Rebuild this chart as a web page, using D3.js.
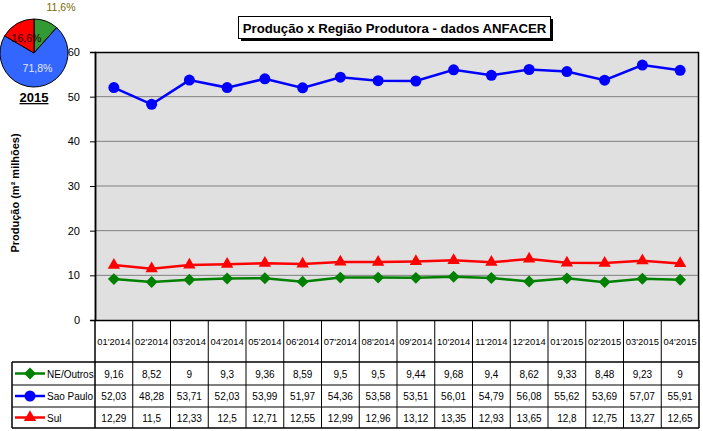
<!DOCTYPE html>
<html><head><meta charset="utf-8">
<script src="https://cdn.jsdelivr.net/npm/d3@7"></script>
<style>body{margin:0;background:#fff}svg{display:block;font-family:Arial,"Liberation Sans",sans-serif}</style>
</head><body><svg id="c" width="703" height="431"></svg>
<script>
const categories = ["01'2014","02'2014","03'2014","04'2014","05'2014","06'2014","07'2014","08'2014","09'2014","10'2014","11'2014","12'2014","01'2015","02'2015","03'2015","04'2015"];
const neOutros = [9.16,8.52,9,9.3,9.36,8.59,9.5,9.5,9.44,9.68,9.4,8.62,9.33,8.48,9.23,9];
const saoPaulo = [52.03,48.28,53.71,52.03,53.99,51.97,54.36,53.58,53.51,56.01,54.79,56.08,55.62,53.69,57.07,55.91];
const sul = [12.29,11.5,12.33,12.5,12.71,12.55,12.99,12.96,13.12,13.35,12.93,13.65,12.8,12.75,13.27,12.65];
const yTicks = [0,10,20,30,40,50,60];
const pieLabels = ["11,6%","71,8%","16,6%"];
const pieValues = [11.6,71.8,16.6];
const pieYear = "2015";
const seriesNames = ["NE/Outros","Sao Paulo","Sul"];

const svg = d3.select("#c");
const X0=95, X1=699, YT=52, YB=320;
const x = d3.scaleBand().domain(categories).range([X0,X1]).padding(0);
const y = d3.scaleLinear().domain([0,60]).range([YB,YT]);
const fmt = v => String(v).replace(".", ",");

// plot background
svg.append("rect").attr("x",X0).attr("y",YT).attr("width",X1-X0).attr("height",YB-YT).attr("fill","#e0e0e0");
// grid
svg.append("g").selectAll("line").data(yTicks.filter(t=>t>0&&t<60)).join("line")
  .attr("x1",X0).attr("x2",X1).attr("y1",d=>y(d)).attr("y2",d=>y(d)).attr("stroke","#808080").attr("stroke-width",1);
svg.append("rect").attr("x",X0+0.5).attr("y",YT+0.5).attr("width",X1-X0-1).attr("height",YB-YT).attr("fill","none").attr("stroke","#000").attr("stroke-width",1.5);

// y axis
const ya = svg.append("g").attr("transform",`translate(${X0},0)`).call(d3.axisLeft(y).tickValues(yTicks).tickSize(5).tickPadding(10));
ya.select(".domain").attr("stroke","#000").attr("stroke-width",1.5);
ya.selectAll("line").attr("stroke","#000");
ya.selectAll("text").attr("font-size",11).attr("fill","#000").attr("font-family","Arial");

svg.append("text").attr("transform","translate(19,193) rotate(-90)").attr("text-anchor","middle")
  .attr("font-size",11).attr("font-weight","bold").text("Produção (m² milhões)");

// series
const series = [
  {name:seriesNames[0], data:neOutros, color:"#008000", marker:"diamond"},
  {name:seriesNames[1], data:saoPaulo, color:"#0000ff", marker:"circle"},
  {name:seriesNames[2], data:sul, color:"#ff0000", marker:"triangle"}
];
const symType = {diamond:d3.symbolDiamond2, circle:d3.symbolCircle, triangle:d3.symbolTriangle2};
const symSize = {diamond:90, circle:95, triangle:110};
const cx = c => x(c)+x.bandwidth()/2;
series.forEach(s=>{
  const line = d3.line().x((d,i)=>cx(categories[i])).y(d=>y(d));
  svg.append("path").datum(s.data).attr("d",line).attr("fill","none").attr("stroke",s.color).attr("stroke-width",2.5);
  svg.append("g").selectAll("path").data(s.data).join("path")
    .attr("transform",(d,i)=>`translate(${cx(categories[i])},${y(d)})`)
    .attr("d",d3.symbol().type(symType[s.marker]).size(symSize[s.marker])).attr("fill",s.color);
});

// table
const rowsY = [320,362,385,407,428];
const T = svg.append("g");
const colEdges = categories.map(c=>x(c)).concat([X1]);
colEdges.forEach((ex,i)=>{
  T.append("line").attr("x1",ex).attr("x2",ex).attr("y1",YB).attr("y2",rowsY[4]).attr("stroke","#000").attr("stroke-width",i===0||i===colEdges.length-1?1.5:1);
});
T.append("line").attr("x1",12).attr("x2",12).attr("y1",rowsY[1]).attr("y2",rowsY[4]).attr("stroke","#000").attr("stroke-width",1.5);
[1,2,3,4].forEach(k=>{
  T.append("line").attr("x1",12).attr("x2",X1).attr("y1",rowsY[k]).attr("y2",rowsY[k]).attr("stroke","#000").attr("stroke-width",k===1||k===4?1.5:1);
});
categories.forEach(c=>{
  T.append("text").attr("x",cx(c)).attr("y",(rowsY[0]+rowsY[1])/2+4).attr("text-anchor","middle").attr("font-size",9.4).text(c);
});
series.forEach((s,k)=>{
  const ym = (rowsY[k+1]+rowsY[k+2])/2;
  T.append("line").attr("x1",15).attr("x2",45).attr("y1",ym).attr("y2",ym).attr("stroke",s.color).attr("stroke-width",2.5);
  T.append("path").attr("transform",`translate(30,${ym})`).attr("d",d3.symbol().type(symType[s.marker]).size(symSize[s.marker])).attr("fill",s.color);
  T.append("text").attr("x",47).attr("y",ym+4).attr("font-size",10).text(s.name);
  s.data.forEach((v,i)=>{
    T.append("text").attr("x",cx(categories[i])).attr("y",ym+4).attr("text-anchor","middle").attr("font-size",10).text(fmt(v));
  });
});

// title
const tb = svg.append("g");
tb.append("rect").attr("x",241).attr("y",19).attr("width",312).attr("height",22).attr("fill","#000");
tb.append("rect").attr("x",238.5).attr("y",16.5).attr("width",312).attr("height",22).attr("fill","#fff").attr("stroke","#000").attr("stroke-width",1);
tb.append("text").attr("x",394.5).attr("y",32.5).attr("text-anchor","middle").attr("font-size",13.2).attr("font-weight","bold").text("Produção x Região Produtora - dados ANFACER");

// pie
const pcx=34, pcy=53, r=34;
const pie = d3.pie().sort(null).value(d=>d)(pieValues);
const arc = d3.arc().innerRadius(0).outerRadius(r);
const pieColors = ["#339933","#3366ff","#ff0000"];
const pg = svg.append("g").attr("transform",`translate(${pcx},${pcy})`);
pg.selectAll("path").data(pie).join("path").attr("d",arc).attr("fill",(d,i)=>pieColors[i]).attr("stroke","#000").attr("stroke-width",1);
const labelPos = [[61-pcx,11-pcy],[37.5-pcx,72-pcy],[26.5-pcx,42-pcy]];
const labelColors = ["#7a6a00","#e6e6ff","#200000"];
pieLabels.forEach((t,i)=>{
  pg.append("text").attr("x",labelPos[i][0]).attr("y",labelPos[i][1]).attr("text-anchor","middle").attr("font-size",10.5).attr("fill",labelColors[i]).text(t);
});
svg.append("text").attr("x",34).attr("y",102).attr("text-anchor","middle").attr("font-size",13).attr("font-weight","bold").attr("text-decoration","underline").text(pieYear);
</script></body></html>
